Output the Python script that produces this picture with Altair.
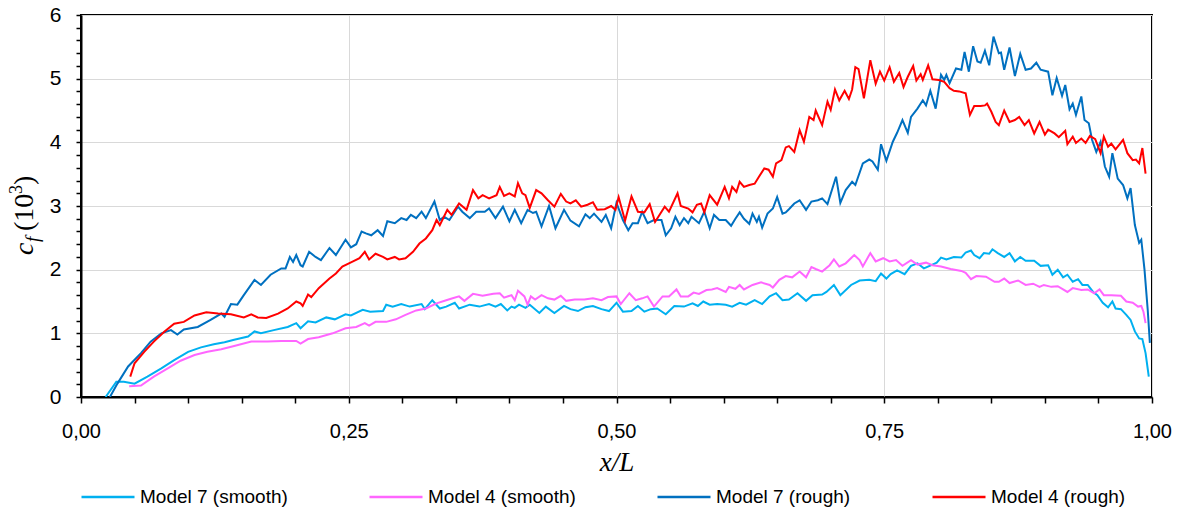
import altair as alt
import pandas as pd

# ---------------- data ----------------
m7s_x = [.023,.033,.040,.050,.062,.075,.087,.100,.112,.124,.134,.143,.156,.162,.168,.180,.193,.201,.205,.212,.219,.229,.237,.247,.252,.263,.270,.282,.285,.291,.299,.307,.318,.321,.328,.335,.341,.349,.353,.363,.372,.381,.387,.392,.398,.402,.405,.409,.415,.419,.428,.434,.442,.451,.457,.464,.471,.478,.486,.493,.500,.506,.514,.520,.526,.532,.538,.546,.554,.563,.571,.576,.581,.587,.594,.602,.608,.615,.621,.629,.636,.643,.649,.655,.661,.669,.677,.683,.692,.696,.703,.709,.719,.727,.736,.742,.747,.752,.756,.762,.769,.775,.781,.787,.794,.799,.803,.808,.815,.822,.826,.831,.834,.839,.843,.848,.851,.856,.862,.867,.872,.877,.882,.890,.896,.903,.907,.912,.917,.921,.926,.931,.935,.940,.945,.949,.954,.959,.963,.966,.971,.976,.980,.984,.988,.991,.994,.997]
m7s_y = [0.0,.24,.24,.21,.32,.45,.58,.71,.78,.83,.86,.90,.95,1.03,1.00,1.05,1.10,1.16,1.08,1.19,1.17,1.25,1.22,1.30,1.28,1.37,1.34,1.35,1.45,1.42,1.46,1.42,1.46,1.38,1.52,1.39,1.42,1.48,1.39,1.45,1.42,1.46,1.42,1.46,1.36,1.42,1.40,1.45,1.40,1.45,1.32,1.42,1.32,1.43,1.38,1.35,1.41,1.43,1.38,1.35,1.48,1.34,1.35,1.43,1.34,1.38,1.39,1.30,1.43,1.42,1.47,1.43,1.50,1.45,1.46,1.45,1.42,1.48,1.45,1.52,1.46,1.58,1.63,1.52,1.53,1.63,1.51,1.60,1.61,1.65,1.76,1.60,1.76,1.83,1.84,1.82,1.94,1.86,1.93,1.99,1.93,2.06,2.10,2.02,2.07,2.11,2.19,2.16,2.20,2.19,2.27,2.30,2.23,2.18,2.26,2.25,2.32,2.26,2.20,2.26,2.13,2.20,2.14,2.14,2.06,2.07,1.92,2.00,1.88,1.92,1.81,1.85,1.76,1.76,1.65,1.60,1.48,1.41,1.50,1.39,1.38,1.29,1.21,1.03,.92,.91,.69,.32]

m4s_x = [.045,.056,.068,.081,.093,.106,.118,.131,.143,.159,.174,.187,.201,.205,.212,.222,.235,.247,.257,.265,.269,.275,.285,.294,.303,.313,.322,.332,.341,.347,.353,.358,.366,.375,.385,.391,.395,.402,.405,.408,.414,.417,.420,.424,.430,.436,.442,.448,.453,.461,.470,.478,.486,.492,.500,.504,.512,.518,.524,.529,.535,.543,.549,.556,.560,.567,.572,.577,.584,.589,.594,.602,.605,.611,.615,.619,.627,.635,.643,.646,.652,.658,.664,.671,.677,.682,.686,.692,.699,.703,.708,.714,.722,.727,.730,.737,.742,.749,.755,.761,.767,.775,.781,.789,.795,.803,.812,.822,.826,.831,.836,.845,.853,.857,.862,.867,.875,.882,.889,.895,.899,.906,.912,.921,.926,.934,.940,.946,.951,.955,.962,.971,.976,.982,.987,.990,.992,.994]
m4s_y = [.17,.18,.32,.45,.57,.66,.71,.75,.80,.87,.87,.88,.88,.84,.91,.94,1.00,1.08,1.10,1.16,1.12,1.18,1.18,1.22,1.29,1.36,1.39,1.47,1.52,1.55,1.58,1.51,1.62,1.59,1.62,1.63,1.56,1.60,1.52,1.67,1.58,1.45,1.58,1.53,1.60,1.55,1.53,1.59,1.51,1.53,1.53,1.55,1.52,1.57,1.58,1.46,1.63,1.52,1.55,1.58,1.42,1.58,1.58,1.69,1.58,1.58,1.64,1.62,1.68,1.69,1.71,1.65,1.73,1.70,1.76,1.69,1.76,1.80,1.76,1.72,1.84,1.90,1.88,1.97,1.88,2.04,2.01,1.97,2.07,2.16,2.05,2.10,2.23,2.15,2.05,2.26,2.13,2.18,2.13,2.15,2.06,2.15,2.08,2.11,2.07,2.05,2.01,1.98,1.95,1.85,1.90,1.89,1.81,1.81,1.86,1.79,1.83,1.76,1.78,1.73,1.76,1.73,1.74,1.65,1.71,1.68,1.69,1.63,1.69,1.60,1.60,1.59,1.50,1.48,1.42,1.43,1.34,1.16]

m7r_x = [.027,.034,.044,.056,.065,.075,.084,.090,.096,.109,.121,.131,.134,.140,.146,.152,.162,.168,.177,.187,.191,.195,.198,.201,.205,.207,.213,.219,.224,.232,.238,.247,.252,.257,.262,.266,.271,.277,.282,.286,.293,.299,.304,.308,.313,.318,.322,.330,.335,.339,.344,.352,.356,.363,.369,.377,.381,.387,.394,.400,.405,.411,.417,.422,.425,.430,.437,.443,.451,.457,.465,.471,.475,.479,.486,.490,.495,.500,.506,.511,.515,.520,.524,.529,.535,.542,.546,.551,.555,.559,.563,.567,.570,.577,.582,.587,.591,.596,.602,.607,.611,.615,.619,.624,.627,.631,.633,.636,.641,.646,.650,.655,.658,.661,.666,.671,.677,.682,.688,.692,.697,.705,.709,.714,.720,.723,.730,.736,.739,.744,.747,.752,.758,.762,.767,.772,.775,.781,.786,.789,.793,.798,.803,.806,.808,.811,.817,.822,.825,.829,.833,.837,.840,.844,.848,.852,.857,.859,.862,.867,.872,.877,.882,.887,.892,.896,.903,.907,.911,.916,.919,.923,.926,.929,.934,.937,.941,.944,.948,.952,.956,.960,.963,.968,.973,.977,.980,.984,.988,.990,.993,.996,.998]
m7r_y = [0.0,.21,.48,.69,.87,1.00,1.05,.98,1.06,1.10,1.21,1.31,1.26,1.46,1.45,1.60,1.84,1.76,1.92,2.02,2.02,2.20,2.12,2.23,2.07,2.05,2.28,2.20,2.15,2.34,2.23,2.47,2.35,2.40,2.60,2.57,2.54,2.62,2.53,2.76,2.73,2.81,2.78,2.86,2.81,2.91,2.81,3.07,2.78,2.83,2.78,2.99,2.91,2.81,2.91,2.91,2.96,2.81,2.99,2.76,2.94,2.73,2.94,2.89,2.91,2.68,3.00,2.65,2.94,2.77,2.68,2.87,2.81,2.88,2.75,2.86,2.65,3.05,2.78,2.62,2.73,2.73,2.91,2.73,2.78,2.78,2.54,2.65,2.83,2.70,2.81,2.73,2.83,2.73,2.91,2.65,2.86,2.78,2.78,2.69,2.80,2.90,2.80,2.72,2.88,2.75,2.83,2.66,2.88,2.96,3.14,2.88,2.90,2.95,3.04,3.09,2.94,3.07,3.09,3.12,3.03,3.46,3.05,3.25,3.38,3.33,3.67,3.73,3.70,3.57,3.97,3.71,4.01,4.15,4.35,4.15,4.40,4.53,4.66,4.58,4.81,4.53,5.06,4.98,5.06,4.93,5.16,5.14,5.42,5.11,5.51,5.27,5.25,5.44,5.21,5.66,5.40,5.41,5.14,5.49,5.04,5.39,5.14,5.16,5.25,5.14,5.11,4.74,5.01,4.73,4.90,4.52,4.61,4.43,4.72,4.35,4.30,4.04,3.85,4.01,3.62,3.46,3.83,3.43,3.33,3.12,3.28,2.70,2.42,2.47,2.00,1.37,.85]

m4r_x = [.046,.050,.059,.068,.078,.087,.096,.106,.117,.128,.140,.152,.159,.165,.173,.184,.193,.201,.205,.207,.212,.215,.222,.232,.238,.244,.254,.260,.265,.269,.275,.282,.286,.293,.297,.303,.310,.316,.322,.328,.332,.335,.342,.346,.353,.360,.366,.371,.375,.381,.388,.391,.395,.400,.405,.408,.412,.415,.419,.425,.430,.436,.442,.448,.453,.457,.462,.467,.473,.478,.482,.489,.495,.499,.502,.508,.514,.520,.526,.531,.536,.545,.549,.557,.560,.567,.571,.575,.579,.582,.587,.594,.601,.605,.608,.612,.615,.619,.624,.629,.633,.638,.642,.646,.649,.654,.658,.661,.666,.671,.675,.680,.684,.686,.692,.697,.700,.704,.708,.713,.717,.720,.723,.726,.731,.737,.742,.746,.750,.755,.759,.764,.768,.772,.777,.780,.784,.786,.791,.795,.801,.806,.811,.815,.820,.826,.830,.834,.840,.844,.846,.850,.854,.857,.862,.867,.872,.876,.881,.885,.890,.895,.900,.903,.909,.913,.919,.921,.926,.929,.934,.938,.942,.947,.952,.955,.959,.962,.966,.973,.977,.982,.985,.988,.991,.994]
m4r_y = [.32,.53,.71,.87,1.03,1.15,1.18,1.28,1.33,1.31,1.30,1.25,1.30,1.25,1.24,1.31,1.39,1.50,1.47,1.43,1.61,1.57,1.71,1.86,1.94,2.05,2.13,2.18,2.28,2.16,2.25,2.20,2.16,2.20,2.16,2.18,2.28,2.41,2.49,2.62,2.78,2.70,2.94,2.86,3.04,2.94,3.25,3.12,3.17,3.12,3.17,3.30,3.16,3.20,3.15,3.36,3.20,3.17,2.97,3.25,3.20,3.09,2.99,3.19,3.07,3.04,3.09,2.99,3.02,3.06,2.94,2.95,3.00,2.94,3.14,2.77,3.15,2.91,2.90,3.03,2.75,2.99,2.91,3.20,3.00,2.96,2.90,3.02,3.04,2.90,3.17,3.02,3.30,3.12,3.30,3.22,3.38,3.30,3.33,3.35,3.46,3.59,3.57,3.46,3.67,3.72,3.92,3.94,3.85,4.19,4.01,4.40,4.35,4.50,4.27,4.64,4.51,4.83,4.66,4.81,4.68,4.83,5.18,5.15,4.69,5.29,4.92,5.11,4.97,5.18,4.95,5.09,4.87,5.03,5.20,4.97,5.07,4.98,5.21,4.99,4.98,4.95,4.85,4.81,4.80,4.77,4.43,4.57,4.57,4.58,4.61,4.48,4.32,4.27,4.50,4.32,4.35,4.40,4.27,4.35,4.14,4.32,4.12,4.20,4.14,4.08,4.18,3.97,4.09,3.99,4.06,3.99,4.10,4.05,3.83,4.09,3.93,3.98,3.89,4.04,3.83,3.72,3.73,3.67,3.91,3.51]

series_names = ["Model 7 (smooth)", "Model 4 (smooth)", "Model 7 (rough)", "Model 4 (rough)"]
series_colors = ["#00B0F0", "#FF66FF", "#0070C0", "#FF0000"]
series_data = [(m7s_x, m7s_y), (m4s_x, m4s_y), (m7r_x, m7r_y), (m4r_x, m4r_y)]

x_tick_values = [round(i * 0.05, 2) for i in range(21)]
y_tick_values = [round(i * 0.2, 1) for i in range(31)]

frames = []
for name, (xs, ys) in zip(series_names, series_data):
    frames.append(pd.DataFrame({"x": xs, "y": ys, "series": name}))
df = pd.concat(frames, ignore_index=True)

# ---------------- chart ----------------
LABEL_FONT = "Liberation Sans"
SERIF = "Liberation Serif"

x_major = "abs(datum.value*4 - round(datum.value*4)) < 0.001"
y_major = "abs(datum.value - round(datum.value)) < 0.001"

x_axis = alt.Axis(
    values=x_tick_values,
    labelExpr=f"{x_major} ? replace(format(datum.value, '.2f'), '.', ',') : ''",
    grid=True,
    gridColor="#D9D9D9",
    gridWidth=1,
    gridOpacity={"condition": {"test": x_major, "value": 1}, "value": 0},
    domainColor="black", domainWidth=2,
    tickColor="black", tickWidth=1.5, tickSize=6,
    labelFont=LABEL_FONT, labelFontSize=20, labelColor="black",
    labelPadding=18, labelOverlap=False, labelFlush=False,
    title="x/L", titleFont=SERIF, titleFontStyle="italic", titleFontWeight="normal",
    titleFontSize=27, titleColor="black", titleY=65, titleBaseline="middle",
)

y_axis = alt.Axis(
    values=y_tick_values,
    labelExpr=f"{y_major} ? format(datum.value, 'd') : ''",
    grid=True,
    gridColor="#D9D9D9",
    gridWidth=1,
    gridOpacity={"condition": {"test": y_major, "value": 1}, "value": 0},
    domainColor="black", domainWidth=2,
    tickColor="black", tickWidth=1.5, tickSize=5,
    labelFont=LABEL_FONT, labelFontSize=21, labelColor="black",
    labelPadding=15, labelOverlap=False, labelFlush=False,
    title=None,
)

color_scale = alt.Scale(domain=series_names, range=series_colors)
legend = alt.Legend(
    title=None, orient="none", direction="horizontal",
    legendX=-1, legendY=454, padding=0,
    symbolType="stroke", symbolSize=2809, symbolStrokeWidth=2.5,
    labelFont=LABEL_FONT, labelFontSize=19, labelColor="black", labelOffset=4,
    columnPadding=76, labelLimit=300,
)

x_enc = alt.X("x:Q", scale=alt.Scale(domain=[0, 1], nice=False, zero=False), axis=x_axis)
y_enc = alt.Y("y:Q", scale=alt.Scale(domain=[0, 6], nice=False), axis=y_axis)
c_enc = alt.Color("series:N", scale=color_scale, legend=legend)

layers = []
for name in series_names:
    layers.append(
        alt.Chart(df).transform_filter(alt.datum.series == name)
        .mark_line(strokeWidth=2, clip=True)
        .encode(x=x_enc, y=y_enc, color=c_enc)
    )

# y-axis title c_f(10^3) assembled from pieces
title_df = pd.DataFrame({"k": [0]})
def piece(text, x, y, size, italic=False):
    return alt.Chart(title_df).mark_text(
        text=text, font=SERIF, fontSize=size, fontStyle="italic" if italic else "normal",
        angle=270, align="left", baseline="alphabetic", color="black",
    ).encode(x=alt.value(x), y=alt.value(y))

title_parts = [
    piece("c", -48, 240, 28, True),
    piece("f", -42, 227, 19, True),
    piece("(10", -48, 216, 28),
    piece("3", -59, 179, 18),
    piece(")", -48, 170, 28),
]

chart = alt.layer(*layers, *title_parts).properties(
    width=1071, height=382,
    autosize=alt.AutoSizeParams(type="none"),
    padding={"left": 81, "top": 15, "right": 31, "bottom": 118},
).configure_view(stroke="black", strokeWidth=2)

chart.save("out.html", embed_options={"renderer": "svg", "actions": False})
